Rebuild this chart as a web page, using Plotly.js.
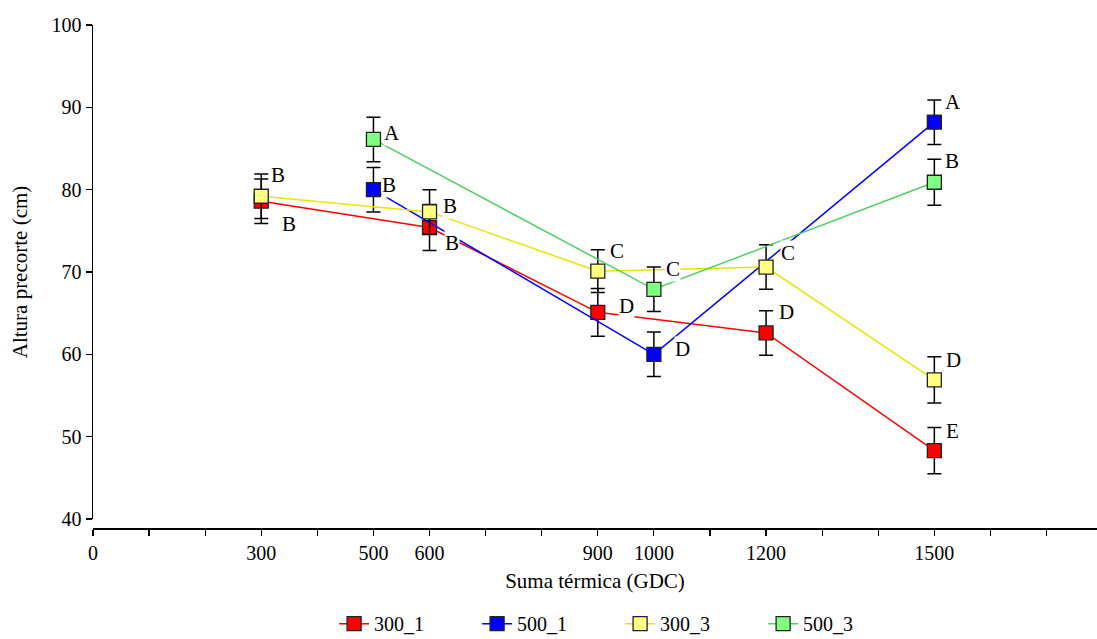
<!DOCTYPE html>
<html>
<head>
<meta charset="utf-8">
<script src="https://cdn.plot.ly/plotly-3.0.1.min.js"></script>
<style>html,body{margin:0;padding:0;background:#fff;}#chart{width:1097px;height:639px;}</style>
</head>
<body>
<div id="chart"></div>
<script>
// ---- data ----
const seriesNames = ['300_1', '500_1', '300_3', '500_3'];

const x_300_1 = [300, 600, 900, 1200, 1500];
const y_300_1 = [78.6, 75.4, 65.1, 62.6, 48.3];
const e_300_1 = [2.7, 2.8, 2.9, 2.7, 2.8];
const l_300_1 = ['B', 'B', 'D', 'D', 'E'];

const x_500_1 = [500, 1000, 1500];
const y_500_1 = [80.0, 60.0, 88.2];
const e_500_1 = [2.7, 2.7, 2.7];
const l_500_1 = ['B', 'D', 'A'];

const x_300_3 = [300, 600, 900, 1200, 1500];
const y_300_3 = [79.2, 77.3, 70.1, 70.6, 56.9];
const e_300_3 = [2.7, 2.7, 2.6, 2.7, 2.8];
const l_300_3 = ['B', 'B', 'C', 'C', 'D'];

const x_500_3 = [500, 1000, 1500];
const y_500_3 = [86.1, 67.9, 80.9];
const e_500_3 = [2.7, 2.7, 2.8];
const l_500_3 = ['A', 'C', 'B'];

const xTickVals = [0,100,200,300,400,500,600,700,800,900,1000,1100,1200,1300,1400,1500,1600,1700];
const xTickText = ['0','','','300','','500','600','','','900','1000','','1200','','','1500','',''];
const yTickVals = [40, 50, 60, 70, 80, 90, 100];

// ---- styles ----
const FONT = 'Liberation Serif, Times New Roman, serif';
const styles = [
  {line: '#ff0000', fill: '#ff0000'},
  {line: '#0000ff', fill: '#0000ff'},
  {line: '#e6e600', fill: '#ffff80'},
  {line: '#4fcf5f', fill: '#80ff80'}
];
// label offsets in pixels (dx right, dy down) for each point of each series
const labelOffsets = [
  [[28,23],[22,15],[29,-6],[20,-21],[18,-20]],
  [[16,-5],[29,-5],[19,-20]],
  [[17,-21],[20,-6],[19,-20],[22,-14],[19,-20]],
  [[19,-6],[19,-20],[18,-21]]
];

const xs = [x_300_1, x_500_1, x_300_3, x_500_3];
const ys = [y_300_1, y_500_1, y_300_3, y_500_3];
const es = [e_300_1, e_500_1, e_300_3, e_500_3];
const ls = [l_300_1, l_500_1, l_300_3, l_500_3];

const traces = seriesNames.map((name, i) => ({
  type: 'scatter', mode: 'lines+markers', name: name,
  x: xs[i], y: ys[i],
  line: {color: styles[i].line, width: 1.5},
  marker: {symbol: 'square', size: 14, color: styles[i].fill, line: {color: '#222', width: 1.3}},
  error_y: {type: 'data', array: es[i], visible: true, color: '#000', thickness: 1.5, width: 7}
}));

const annotations = [];
seriesNames.forEach((name, i) => {
  xs[i].forEach((xv, j) => {
    annotations.push({
      x: xv, y: ys[i][j], xref: 'x', yref: 'y', text: ls[i][j], showarrow: false,
      xshift: labelOffsets[i][j][0], yshift: -labelOffsets[i][j][1],
      font: {family: FONT, size: 21, color: '#000'},
      bgcolor: '#ffffff', borderpad: 0
    });
  });
});

const layout = {
  width: 1097, height: 639,
  margin: {l: 93, r: 0, t: 25, b: 111, autoexpand: false},
  paper_bgcolor: '#fff', plot_bgcolor: '#fff',
  font: {family: FONT, size: 20, color: '#000'},
  showlegend: true,
  legend: {orientation: 'h', x: 0.525, xanchor: 'center', yref: 'container', y: 0.024, yanchor: 'middle',
           font: {family: FONT, size: 20, color: '#000'},
           entrywidth: 98, entrywidthmode: 'pixels', tracegroupgap: 0},
  xaxis: {
    range: [0, 1790], anchor: 'free', position: 0, automargin: false,
    tickmode: 'array', tickvals: xTickVals, ticktext: xTickText,
    ticks: 'outside', ticklen: 6, tickwidth: 1.2, tickcolor: '#000',
    showline: true, linecolor: '#000', linewidth: 1.5,
    showgrid: false, zeroline: false,
    tickfont: {family: FONT, size: 20, color: '#000'},
    title: {text: 'Suma térmica (GDC)', font: {family: FONT, size: 21, color: '#000'}, standoff: 11}
  },
  yaxis: {
    range: [40, 100], domain: [0.0179, 1], anchor: 'x', automargin: false,
    tickmode: 'array', tickvals: yTickVals,
    ticks: 'outside', ticklen: 6, tickwidth: 1.2, tickcolor: '#000',
    showline: true, linecolor: '#000', linewidth: 1.5,
    showgrid: false, zeroline: false,
    tickfont: {family: FONT, size: 20, color: '#000'},
    title: {text: 'Altura precorte (cm)', font: {family: FONT, size: 21, color: '#000'}, standoff: 18}
  },
  annotations: annotations
};

Plotly.newPlot('chart', traces, layout, {displayModeBar: false, staticPlot: true});
</script>
</body>
</html>
